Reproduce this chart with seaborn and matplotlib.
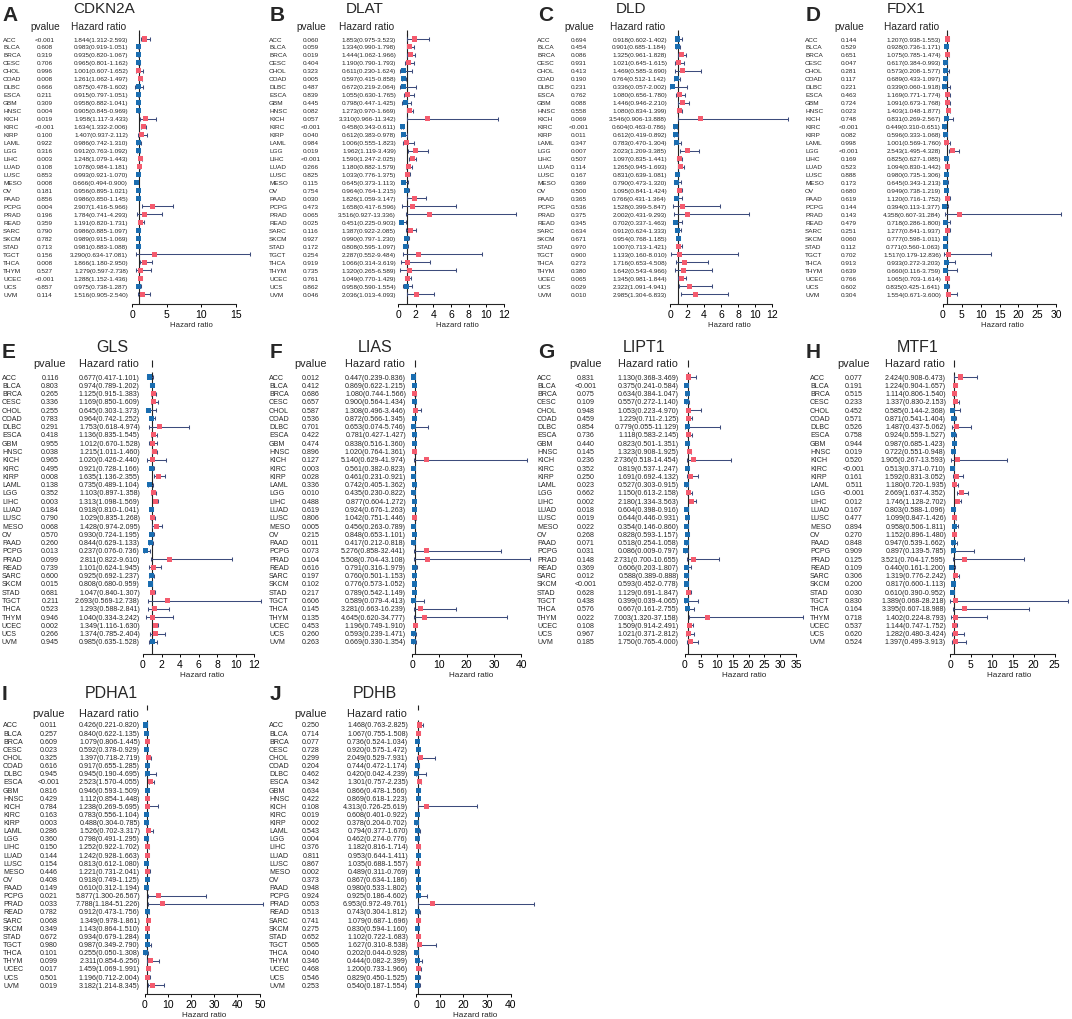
import numpy as np
import pandas as pd
import matplotlib
matplotlib.use("Agg")
import matplotlib.pyplot as plt
import seaborn as sns
from matplotlib import transforms

# ---------------- data ----------------
CANCERS = ["ACC", "BLCA", "BRCA", "CESC", "CHOL", "COAD", "DLBC", "ESCA", "GBM", "HNSC", "KICH",
           "KIRC", "KIRP", "LAML", "LGG", "LIHC", "LUAD", "LUSC", "MESO", "OV", "PAAD", "PCPG",
           "PRAD", "READ", "SARC", "SKCM", "STAD", "TGCT", "THCA", "THYM", "UCEC", "UCS", "UVM"]

CDKN2A_p = ["<0.001", "0.608", "0.319", "0.706", "0.996", "0.008", "0.666", "0.211", "0.309", "0.004", "0.019",
            "<0.001", "0.100", "0.922", "0.316", "0.003", "0.108", "0.853", "0.008", "0.181", "0.856", "0.004",
            "0.196", "0.359", "0.790", "0.782", "0.713", "0.156", "0.008", "0.527", "<0.001", "0.857", "0.114"]
CDKN2A_hr = [1.844, 0.983, 0.935, 0.965, 1.001, 1.261, 0.875, 0.915, 0.958, 0.905, 1.958, 1.634, 1.407, 0.986,
             0.912, 1.248, 1.078, 0.993, 0.666, 0.956, 0.986, 2.907, 1.784, 1.191, 0.986, 0.989, 0.981, 3.290,
             1.866, 1.279, 1.288, 0.975, 1.516]
CDKN2A_lo = [1.312, 0.919, 0.820, 0.801, 0.607, 1.062, 0.478, 0.797, 0.882, 0.845, 1.117, 1.332, 0.937, 0.742,
             0.763, 1.079, 0.984, 0.921, 0.494, 0.895, 0.850, 1.416, 0.741, 0.820, 0.885, 0.915, 0.883, 0.634,
             1.180, 0.597, 1.152, 0.738, 0.905]
CDKN2A_hi = [2.593, 1.051, 1.067, 1.162, 1.652, 1.497, 1.602, 1.051, 1.041, 0.969, 3.433, 2.006, 2.112, 1.310,
             1.092, 1.443, 1.181, 1.070, 0.900, 1.021, 1.145, 5.966, 4.293, 1.731, 1.097, 1.069, 1.088, 17.081,
             2.950, 2.738, 1.436, 1.287, 2.540]

DLAT_p = ["0.060", "0.059", "0.019", "0.404", "0.323", "0.005", "0.487", "0.839", "0.445", "0.082", "0.057",
          "<0.001", "0.040", "0.984", "0.019", "<0.001", "0.266", "0.825", "0.115", "0.754", "0.030", "0.473",
          "0.065", "0.025", "0.116", "0.927", "0.172", "0.254", "0.919", "0.735", "0.761", "0.862", "0.046"]
DLAT_hr = [1.853, 1.334, 1.444, 1.190, 0.611, 0.597, 0.672, 1.055, 0.798, 1.273, 3.310, 0.458, 0.612, 1.006,
           1.962, 1.590, 1.180, 1.033, 0.645, 0.964, 1.826, 1.658, 3.516, 0.451, 1.387, 0.990, 0.808, 2.287,
           1.066, 1.320, 1.049, 0.958, 2.036]
DLAT_lo = [0.975, 0.990, 1.062, 0.790, 0.230, 0.415, 0.219, 0.630, 0.447, 0.970, 0.966, 0.343, 0.383, 0.555,
           1.119, 1.247, 0.882, 0.776, 0.373, 0.764, 1.059, 0.417, 0.927, 0.225, 0.922, 0.797, 0.595, 0.552,
           0.314, 0.265, 0.770, 0.590, 1.013]
DLAT_hi = [3.523, 1.798, 1.966, 1.793, 1.624, 0.858, 2.064, 1.765, 1.425, 1.669, 11.342, 0.611, 0.978, 1.823,
           3.439, 2.025, 1.579, 1.375, 1.113, 1.215, 3.147, 6.596, 13.336, 0.903, 2.085, 1.230, 1.097, 9.484,
           3.619, 6.589, 1.429, 1.554, 4.093]

DLD_p = ["0.694", "0.454", "0.086", "0.931", "0.413", "0.190", "0.231", "0.762", "0.088", "0.558", "0.069",
         "<0.001", "0.011", "0.347", "0.007", "0.507", "0.114", "0.167", "0.369", "0.500", "0.365", "0.536",
         "0.375", "0.345", "0.634", "0.671", "0.970", "0.900", "0.273", "0.380", "0.065", "0.029", "0.010"]
DLD_hr = [0.918, 0.901, 1.325, 1.021, 1.469, 0.764, 0.336, 1.080, 1.446, 1.080, 3.546, 0.604, 0.612, 0.783,
          2.023, 1.097, 1.265, 0.831, 0.790, 1.095, 0.766, 1.528, 2.002, 0.702, 0.912, 0.954, 1.007, 1.133,
          1.716, 1.642, 1.345, 2.322, 2.985]
DLD_lo = [0.602, 0.685, 0.961, 0.645, 0.585, 0.512, 0.057, 0.656, 0.946, 0.834, 0.906, 0.463, 0.419, 0.470,
          1.209, 0.835, 0.945, 0.639, 0.473, 0.841, 0.431, 0.399, 0.431, 0.337, 0.624, 0.768, 0.713, 0.160,
          0.653, 0.543, 0.981, 1.091, 1.304]
DLD_hi = [1.402, 1.184, 1.828, 1.615, 3.690, 1.142, 2.002, 1.780, 2.210, 1.399, 13.888, 0.786, 0.892, 1.304,
          3.385, 1.441, 1.693, 1.081, 1.320, 1.424, 1.364, 5.847, 9.293, 1.463, 1.333, 1.185, 1.421, 8.010,
          4.508, 4.966, 1.844, 4.941, 6.833]

FDX1_p = ["0.144", "0.529", "0.651", "0.047", "0.281", "0.117", "0.221", "0.463", "0.724", "0.023", "0.748",
          "<0.001", "0.082", "0.998", "<0.001", "0.169", "0.523", "0.888", "0.173", "0.680", "0.619", "0.144",
          "0.143", "0.479", "0.251", "0.060", "0.112", "0.702", "0.913", "0.639", "0.766", "0.602", "0.304"]
FDX1_hr = [1.207, 0.928, 1.075, 0.617, 0.573, 0.689, 0.339, 1.169, 1.091, 1.403, 0.831, 0.449, 0.596, 1.001,
           2.543, 0.825, 1.094, 0.980, 0.645, 0.949, 1.120, 0.394, 4.358, 0.718, 1.277, 0.777, 0.771, 1.517,
           0.933, 0.660, 1.065, 0.835, 1.554]
FDX1_lo = [0.938, 0.736, 0.785, 0.384, 0.208, 0.433, 0.060, 0.771, 0.673, 1.048, 0.269, 0.310, 0.333, 0.569,
           1.495, 0.627, 0.830, 0.735, 0.343, 0.738, 0.716, 0.113, 0.607, 0.286, 0.841, 0.598, 0.560, 0.179,
           0.272, 0.116, 0.703, 0.425, 0.671]
FDX1_hi = [1.553, 1.171, 1.474, 0.993, 1.577, 1.097, 1.918, 1.774, 1.768, 1.877, 2.567, 0.651, 1.068, 1.760,
           4.328, 1.085, 1.442, 1.306, 1.213, 1.219, 1.752, 1.377, 31.284, 1.800, 1.937, 1.011, 1.063, 12.836,
           3.203, 3.759, 1.614, 1.641, 3.600]

GLS_p = ["0.116", "0.803", "0.265", "0.336", "0.255", "0.783", "0.291", "0.418", "0.955", "0.038", "0.965",
         "0.495", "0.008", "0.138", "0.352", "0.003", "0.184", "0.790", "0.068", "0.570", "0.260", "0.013",
         "0.099", "0.739", "0.600", "0.015", "0.681", "0.211", "0.523", "0.946", "0.002", "0.266", "0.945"]
GLS_hr = [0.677, 0.974, 1.125, 1.169, 0.645, 0.964, 1.753, 1.136, 1.012, 1.215, 1.020, 0.921, 1.635, 0.735,
          1.103, 1.313, 0.918, 1.029, 1.428, 0.930, 0.844, 0.237, 2.811, 1.101, 0.925, 0.808, 1.047, 2.693,
          1.293, 1.040, 1.349, 1.374, 0.985]
GLS_lo = [0.417, 0.789, 0.915, 0.850, 0.303, 0.742, 0.618, 0.835, 0.670, 1.011, 0.426, 0.728, 1.136, 0.489,
          0.897, 1.098, 0.810, 0.835, 0.974, 0.724, 0.629, 0.076, 0.822, 0.624, 0.692, 0.680, 0.840, 0.569,
          0.588, 0.334, 1.116, 0.785, 0.635]
GLS_hi = [1.101, 1.202, 1.383, 1.609, 1.373, 1.252, 4.974, 1.545, 1.528, 1.460, 2.440, 1.166, 2.355, 1.104,
          1.358, 1.569, 1.041, 1.268, 2.095, 1.195, 1.133, 0.736, 9.610, 1.945, 1.237, 0.959, 1.307, 12.738,
          2.841, 3.242, 1.630, 2.404, 1.528]

LIAS_p = ["0.012", "0.412", "0.686", "0.657", "0.587", "0.536", "0.701", "0.422", "0.474", "0.896", "0.127",
          "0.003", "0.028", "0.336", "0.010", "0.488", "0.619", "0.806", "0.005", "0.215", "0.011", "0.073",
          "0.104", "0.616", "0.197", "0.102", "0.217", "0.606", "0.145", "0.135", "0.453", "0.260", "0.263"]
LIAS_hr = [0.447, 0.869, 1.080, 0.900, 1.308, 0.872, 0.653, 0.781, 0.838, 1.020, 5.140, 0.561, 0.461, 0.742,
           0.435, 0.877, 0.924, 1.042, 0.456, 0.848, 0.417, 5.276, 5.508, 0.791, 0.760, 0.776, 0.789, 0.589,
           3.281, 4.645, 1.196, 0.593, 0.669]
LIAS_lo = [0.239, 0.622, 0.744, 0.564, 0.496, 0.566, 0.074, 0.427, 0.516, 0.764, 0.629, 0.382, 0.231, 0.405,
           0.230, 0.604, 0.676, 0.751, 0.263, 0.653, 0.212, 0.858, 0.704, 0.316, 0.501, 0.573, 0.542, 0.079,
           0.663, 0.620, 0.749, 0.239, 0.330]
LIAS_hi = [0.836, 1.215, 1.566, 1.434, 3.446, 1.345, 5.746, 1.427, 1.360, 1.361, 41.974, 0.823, 0.921, 1.362,
           0.822, 1.272, 1.263, 1.446, 0.789, 1.101, 0.818, 32.441, 43.108, 1.979, 1.153, 1.052, 1.149, 4.413,
           16.239, 34.777, 1.910, 1.471, 1.354]

LIPT1_p = ["0.831", "<0.001", "0.075", "0.109", "0.948", "0.459", "0.854", "0.736", "0.440", "0.145", "0.236",
           "0.352", "0.250", "0.023", "0.662", "0.002", "0.018", "0.019", "0.022", "0.268", "0.071", "0.031",
           "0.148", "0.369", "0.012", "<0.001", "0.628", "0.438", "0.576", "0.022", "0.108", "0.967", "0.185"]
LIPT1_hr = [1.130, 0.375, 0.634, 0.557, 1.053, 1.229, 0.779, 1.118, 0.823, 1.323, 2.736, 0.819, 1.691, 0.527,
            1.150, 2.180, 0.604, 0.644, 0.354, 0.828, 0.518, 0.086, 2.731, 0.606, 0.588, 0.593, 1.129, 0.399,
            0.667, 7.003, 1.509, 1.021, 1.750]
LIPT1_lo = [0.368, 0.241, 0.384, 0.272, 0.223, 0.711, 0.055, 0.583, 0.501, 0.908, 0.518, 0.537, 0.692, 0.303,
            0.613, 1.334, 0.398, 0.446, 0.146, 0.593, 0.254, 0.009, 0.700, 0.203, 0.389, 0.452, 0.691, 0.039,
            0.161, 1.320, 0.914, 0.371, 0.765]
LIPT1_hi = [3.469, 0.584, 1.047, 1.140, 4.970, 2.125, 11.129, 2.145, 1.351, 1.925, 14.454, 1.247, 4.132, 0.915,
            2.158, 3.563, 0.916, 0.931, 0.860, 1.157, 1.058, 0.797, 10.655, 1.807, 0.888, 0.778, 1.847, 4.065,
            2.755, 37.158, 2.491, 2.812, 4.000]

MTF1_p = ["0.077", "0.191", "0.515", "0.233", "0.452", "0.571", "0.526", "0.758", "0.944", "0.019", "0.520",
          "<0.001", "0.161", "0.511", "<0.001", "0.012", "0.167", "0.477", "0.894", "0.270", "0.848", "0.909",
          "0.125", "0.109", "0.306", "0.200", "0.030", "0.830", "0.164", "0.718", "0.537", "0.620", "0.524"]
MTF1_hr = [2.424, 1.224, 1.114, 1.337, 0.585, 0.871, 1.487, 0.924, 0.987, 0.722, 1.905, 0.513, 1.592, 1.180,
           2.669, 1.746, 0.803, 1.099, 0.958, 1.152, 0.947, 0.897, 3.521, 0.440, 1.319, 0.817, 0.610, 1.389,
           3.395, 1.402, 1.144, 1.282, 1.397]
MTF1_lo = [0.908, 0.904, 0.806, 0.830, 0.144, 0.541, 0.437, 0.559, 0.685, 0.551, 0.267, 0.371, 0.831, 0.720,
           1.637, 1.128, 0.588, 0.847, 0.506, 0.896, 0.539, 0.139, 0.704, 0.161, 0.776, 0.600, 0.390, 0.068,
           0.607, 0.224, 0.747, 0.480, 0.499]
MTF1_hi = [6.473, 1.657, 1.540, 2.153, 2.368, 1.404, 5.062, 1.527, 1.423, 0.948, 13.593, 0.710, 3.052, 1.935,
           4.352, 2.702, 1.096, 1.426, 1.811, 1.480, 1.662, 5.785, 17.595, 1.200, 2.242, 1.113, 0.952, 28.218,
           18.988, 8.793, 1.752, 3.424, 3.913]

PDHA1_p = ["0.011", "0.257", "0.609", "0.023", "0.325", "0.616", "0.945", "<0.001", "0.816", "0.429", "0.784",
           "0.163", "0.003", "0.286", "0.360", "0.150", "0.144", "0.154", "0.446", "0.408", "0.149", "0.021",
           "0.033", "0.782", "0.068", "0.349", "0.672", "0.980", "0.101", "0.099", "0.017", "0.501", "0.019"]
PDHA1_hr = [0.426, 0.840, 1.079, 0.592, 1.397, 0.917, 0.945, 2.523, 0.946, 1.112, 1.238, 0.783, 0.488, 1.526,
            0.798, 1.252, 1.242, 0.813, 1.221, 0.918, 0.610, 5.877, 7.788, 0.912, 1.349, 1.143, 0.934, 0.987,
            0.255, 2.311, 1.459, 1.196, 3.182]
PDHA1_lo = [0.221, 0.622, 0.806, 0.378, 0.718, 0.655, 0.190, 1.570, 0.593, 0.854, 0.269, 0.556, 0.304, 0.702,
            0.491, 0.922, 0.928, 0.612, 0.731, 0.749, 0.312, 1.300, 1.184, 0.473, 0.978, 0.864, 0.679, 0.349,
            0.050, 0.854, 1.069, 0.712, 1.214]
PDHA1_hi = [0.820, 1.135, 1.445, 0.929, 2.719, 1.285, 4.695, 4.055, 1.509, 1.448, 5.695, 1.104, 0.785, 3.317,
            1.295, 1.702, 1.663, 1.080, 2.041, 1.125, 1.194, 26.567, 51.226, 1.756, 1.861, 1.510, 1.284, 2.790,
            1.308, 6.256, 1.991, 2.004, 8.345]

PDHB_p = ["0.250", "0.714", "0.077", "0.728", "0.299", "0.204", "0.462", "0.342", "0.634", "0.422", "0.108",
          "0.019", "0.002", "0.543", "0.004", "0.376", "0.811", "0.867", "0.002", "0.373", "0.948", "0.924",
          "0.053", "0.513", "0.741", "0.275", "0.652", "0.565", "0.040", "0.346", "0.468", "0.546", "0.253"]
PDHB_hr = [1.468, 1.067, 0.736, 0.920, 2.049, 0.744, 0.420, 1.301, 0.866, 0.869, 4.313, 0.608, 0.378, 0.794,
           0.462, 1.182, 0.953, 1.035, 0.489, 0.867, 0.980, 0.925, 6.953, 0.743, 1.079, 0.830, 1.102, 1.627,
           0.202, 0.444, 1.200, 0.829, 0.540]
PDHB_lo = [0.763, 0.755, 0.524, 0.575, 0.529, 0.472, 0.042, 0.757, 0.478, 0.618, 0.726, 0.401, 0.204, 0.377,
           0.274, 0.816, 0.644, 0.688, 0.311, 0.634, 0.533, 0.186, 0.972, 0.304, 0.687, 0.594, 0.722, 0.310,
           0.044, 0.082, 0.733, 0.450, 0.187]
PDHB_hi = [2.825, 1.508, 1.034, 1.472, 7.931, 1.174, 4.239, 2.235, 1.566, 1.223, 25.619, 0.922, 0.702, 1.670,
           0.776, 1.714, 1.411, 1.557, 0.769, 1.186, 1.802, 4.602, 49.761, 1.812, 1.696, 1.160, 1.683, 8.538,
           0.928, 2.399, 1.966, 1.525, 1.554]

GENES = {
    "CDKN2A": (CDKN2A_p, CDKN2A_hr, CDKN2A_lo, CDKN2A_hi),
    "DLAT": (DLAT_p, DLAT_hr, DLAT_lo, DLAT_hi),
    "DLD": (DLD_p, DLD_hr, DLD_lo, DLD_hi),
    "FDX1": (FDX1_p, FDX1_hr, FDX1_lo, FDX1_hi),
    "GLS": (GLS_p, GLS_hr, GLS_lo, GLS_hi),
    "LIAS": (LIAS_p, LIAS_hr, LIAS_lo, LIAS_hi),
    "LIPT1": (LIPT1_p, LIPT1_hr, LIPT1_lo, LIPT1_hi),
    "MTF1": (MTF1_p, MTF1_hr, MTF1_lo, MTF1_hi),
    "PDHA1": (PDHA1_p, PDHA1_hr, PDHA1_lo, PDHA1_hi),
    "PDHB": (PDHB_p, PDHB_hr, PDHB_lo, PDHB_hi),
}

# ---------------- layout / style ----------------
RED = "#F45B6E"
BLUE = "#1A6DB0"
LINE = "#3D4C7C"

sns.set_theme(style="ticks")
plt.rcParams['font.family'] = ['Liberation Sans', 'DejaVu Sans']

W, H = 1072, 1020
fig = plt.figure(figsize=(W / 100, H / 100), dpi=100)
fig.patch.set_facecolor("white")


def fx(px):
    return px / W


def fy(py):
    return 1 - py / H


ROWS = [
    dict(title=9, header=27, first=40, sp=7.97, base=305, stub=(31, 36), letter=16,
         fs=4.6, hfs=7.3, tfs=11, xlfs=5.6, hoff=29),
    dict(title=347, header=364, first=378, sp=8.28, base=655, stub=(361, 368), letter=352,
         fs=5.1, hfs=7.8, tfs=11.5, xlfs=5.9, hoff=31),
    dict(title=694, header=714, first=726, sp=8.13, base=995, stub=(706, 711), letter=695,
         fs=5.1, hfs=7.8, tfs=11.5, xlfs=5.9, hoff=31),
]

# letter, gene, row, col, label_x, pval_x, hr_right, x0, title_x, tick_step, tick_max
PANELS = [
    ("A", "CDKN2A", 0, 0, 3, 45, 128, 132, 104, 5, 15),
    ("B", "DLAT", 0, 1, 1, 43, 128, 130, 97, 2, 12),
    ("C", "DLD", 0, 2, 1, 43, 131, 134, 95, 2, 12),
    ("D", "FDX1", 0, 3, 1, 45, 137, 139, 102, 5, 30),
    ("E", "GLS", 1, 0, 2, 50, 140, 143, 112, 2, 12),
    ("F", "LIAS", 1, 1, 1, 43, 138, 144, 107, 10, 40),
    ("G", "LIPT1", 1, 2, 1, 50, 143, 149, 108, 5, 35),
    ("H", "MTF1", 1, 3, 6, 50, 142, 146, 114, 5, 25),
    ("I", "PDHA1", 2, 0, 3, 49, 140, 145, 111, 10, 50),
    ("J", "PDHB", 2, 1, 1, 43, 140, 148, 107, 10, 40),
]
PLOT_W = 118

for letter, gene, r, c, lab_x, pv_x, hr_x, x0, title_x, step, tmax in PANELS:
    R = ROWS[r]
    off = c * 268
    pvals, hr, lo, hi = GENES[gene]
    df = pd.DataFrame({"cancer": CANCERS, "row": np.arange(len(CANCERS)),
                       "hr": hr, "lo": lo, "hi": hi, "p": pvals})
    df["risk"] = np.where(df["hr"] > 1, "high", "low")

    top_px = R["stub"][0]
    ax = fig.add_axes([fx(off + x0), fy(R["base"]), fx(PLOT_W), (R["base"] - top_px) / H])
    y_bottom = (R["base"] - R["first"]) / R["sp"]
    y_top = (top_px - R["first"]) / R["sp"]
    ax.set_ylim(y_bottom, y_top)
    ax.set_xlim(0, df["hi"].max())

    # reference line at HR = 1
    ax.vlines(1, -0.6, y_bottom, color="#222222", lw=0.8, zorder=1)
    ax.vlines(1, (R["stub"][0] - R["first"]) / R["sp"], (R["stub"][1] - R["first"]) / R["sp"],
              color="#222222", lw=0.8, zorder=1)

    ax.errorbar(df["hr"], df["row"], xerr=[df["hr"] - df["lo"], df["hi"] - df["hr"]],
                fmt="none", ecolor=LINE, elinewidth=0.75, capsize=1.3, capthick=0.75,
                zorder=2, clip_on=False)
    sns.scatterplot(data=df, x="hr", y="row", hue="risk", palette={"high": RED, "low": BLUE},
                    marker="s", s=13, linewidth=0, legend=False, ax=ax, zorder=3, clip_on=False)

    for s in ["top", "right", "left"]:
        ax.spines[s].set_visible(False)
    ax.spines["bottom"].set_bounds(0, tmax)
    ax.spines["bottom"].set_linewidth(0.8)
    ax.set_yticks([])
    ax.set_ylabel("")
    ax.set_xticks(np.arange(0, tmax + 1, step))
    ax.tick_params(axis="x", bottom=True, direction="out", length=2.5, width=0.7,
                   labelsize=7.5, pad=1, colors="black")
    ax.set_xlabel("Hazard ratio", fontsize=R["xlfs"], labelpad=1.5)
    ax.patch.set_alpha(0)

    trans = transforms.blended_transform_factory(fig.transFigure, ax.transData)
    for _, row in df.iterrows():
        ax.text(fx(off + lab_x), row["row"], row["cancer"], transform=trans,
                ha="left", va="center", fontsize=R["fs"])
        ax.text(fx(off + pv_x), row["row"], row["p"], transform=trans,
                ha="center", va="center", fontsize=R["fs"])
        ax.text(fx(off + hr_x), row["row"],
                f"{row['hr']:.3f}({row['lo']:.3f}-{row['hi']:.3f})", transform=trans,
                ha="right", va="center", fontsize=R["fs"])

    fig.text(fx(off + pv_x), fy(R["header"]), "pvalue", ha="center", va="center", fontsize=R["hfs"])
    fig.text(fx(off + hr_x - R["hoff"]), fy(R["header"]), "Hazard ratio",
             ha="center", va="center", fontsize=R["hfs"])
    fig.text(fx(off + title_x), fy(R["title"]), gene, ha="center", va="center", fontsize=R["tfs"])
    fig.text(fx(off + 2), fy(R["letter"]), letter, ha="left", va="center",
             fontsize=15, fontweight="bold")

fig.savefig("out.png", dpi=100, facecolor="white")
